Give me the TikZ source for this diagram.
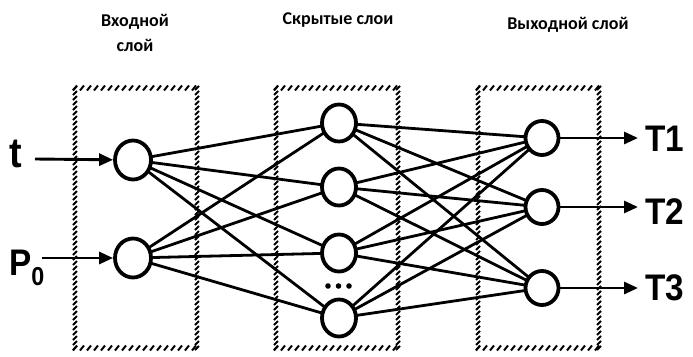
\documentclass[tikz,border=0pt]{standalone}
\usepackage{fontspec}
\setmainfont{Carlito}
\newfontfamily\lblfont{Liberation Sans}
\usetikzlibrary{arrows.meta,shapes.geometric}
\tikzset{
  neuron/.style={ellipse, draw, line width=3.8pt, fill=white, inner sep=0pt},
  inn/.style={neuron, minimum width=36pt, minimum height=39pt},
  hid/.style={neuron, minimum width=34pt, minimum height=37pt},
  outn/.style={neuron, minimum width=33pt, minimum height=34pt},
  conn/.style={line width=2.8pt},
  arr/.style={line width=2.9pt, -{Triangle[length=14pt,width=12pt]}},
  hatch/.style={line width=2pt},
  title/.style={font=\fontsize{18}{25}\selectfont\bfseries, align=center},
  lbl/.style={font=\fontsize{37}{37}\selectfont\lblfont\bfseries, inner sep=0pt, xscale=0.9}
}
\newcommand\hatchbox[4]{%
  \pgfmathtruncatemacro\hbN{(#3-#1)/7}%
  \pgfmathtruncatemacro\hbM{(#4-#2)/5}%
  \foreach \i in {0,...,\hbN}{%
    \draw[hatch] ({#1+7*\i-2},{#2+2.5}) -- ++(4,-5);
    \draw[hatch] ({#1+7*\i-2},{#4+2.5}) -- ++(4,-5);
  }%
  \foreach \j in {0,...,\hbM}{%
    \draw[hatch] ({#1-2},{#2+5*\j+2}) -- ++(4,-4);
    \draw[hatch] ({#3-2},{#2+5*\j+2}) -- ++(4,-4);
  }%
}
\begin{document}
\begin{tikzpicture}[x=1pt,y=-1pt]
\useasboundingbox (0,0) rectangle (693,356);
% hatched layer boxes
\hatchbox{75}{88}{197}{348}
\hatchbox{276}{88}{398}{348}
\hatchbox{478}{88}{599}{348}
% titles
\node[title] (title1) at (135,33) {Входной\\слой};
\node[title] (title2) at (338,20) {Скрытые слои};
\node[title] (title3) at (568,25) {Выходной слой};
% connections first
\coordinate (i1c) at (133,160);
\coordinate (i2c) at (133,258);
\coordinate (h1c) at (339,123);
\coordinate (h2c) at (339,187);
\coordinate (h3c) at (339,253);
\coordinate (h4c) at (339,318);
\coordinate (o1c) at (542,138);
\coordinate (o2c) at (542,207);
\coordinate (o3c) at (542,288);
\foreach \a in {i1c,i2c}
  \foreach \b in {h1c,h2c,h3c,h4c}
    \draw[conn] (\a) -- (\b);
\foreach \a in {h1c,h2c,h3c,h4c}
  \foreach \b in {o1c,o2c,o3c}
    \draw[conn] (\a) -- (\b);
% neurons
\node[inn] (i1) at (i1c) {};
\node[inn] (i2) at (i2c) {};
\node[hid] (h1) at (h1c) {};
\node[hid] (h2) at (h2c) {};
\node[hid] (h3) at (h3c) {};
\node[hid] (h4) at (h4c) {};
\node[outn] (o1) at (o1c) {};
\node[outn] (o2) at (o2c) {};
\node[outn] (o3) at (o3c) {};
% dots
\foreach \x in {328,338.5,349}
  \fill (\x,286) circle (2.8);
% inputs
\node[lbl] (lt) at (16,154) {\fontsize{42}{42}\selectfont t};
\node[lbl] (lp) at (27,268) {P\textsubscript{0}};
\coordinate (ts) at (35,159);
\coordinate (ps) at (42,258);
\draw[arr] (ts) -- (i1);
\draw[arr] (ps) -- (i2);
% outputs
\coordinate (e1) at (638,138);
\coordinate (e2) at (638,207);
\coordinate (e3) at (638,288);
\draw[arr] (o1) -- (e1);
\draw[arr] (o2) -- (e2);
\draw[arr] (o3) -- (e3);
\node[lbl] (T1) at (665,139) {T1};
\node[lbl] (T2) at (665,212) {T2};
\node[lbl] (T3) at (665,288) {T3};
\end{tikzpicture}
\end{document}
